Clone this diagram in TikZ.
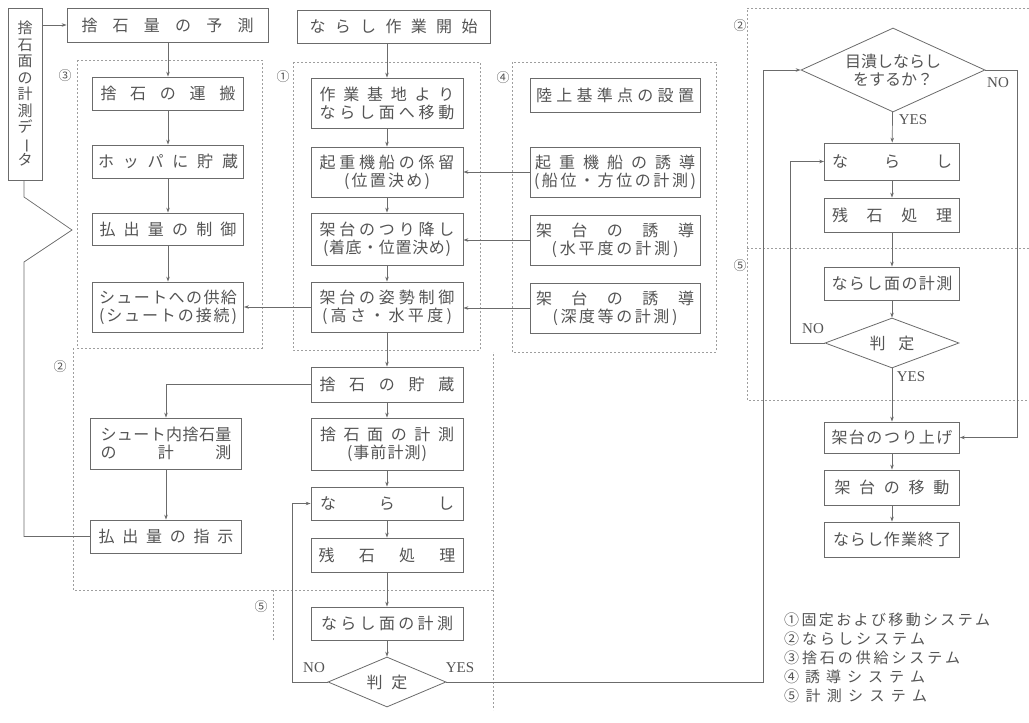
\documentclass[tikz,border=0pt]{standalone}
\usepackage{fontspec}
\setmainfont{Liberation Serif}
\newfontfamily\cjk{Noto Sans CJK JP}
\usetikzlibrary{shapes.geometric,arrows.meta}
\definecolor{tc}{gray}{0.33}
\definecolor{lc}{gray}{0.42}
\definecolor{dc}{gray}{0.62}
\makeatletter
\def\spr#1#2{\makebox[#1][s]{\spr@a#2\relax}}
\def\spr@a#1{#1\spr@b}
\def\spr@b#1{\ifx\relax#1\else\hfil#1\expandafter\spr@b\fi}
\makeatother
\begin{document}
\begin{tikzpicture}[x=1pt,y=-1pt,
 tx/.style={text=tc, font=\cjk\fontsize{16}{18}\selectfont},
 box/.style={draw=lc, line width=0.8pt, fill=white, inner sep=0pt, align=center, tx},
 lbox/.style={box, minimum width=151pt},
 cbox/.style={box, minimum width=152pt},
 ybox/.style={box, minimum width=170pt},
 rbox/.style={box, minimum width=135pt},
 dia/.style={box, diamond, inner sep=0pt},
 arr/.style={draw=lc, line width=0.7pt, -{Stealth[length=5pt,width=3.5pt]}},
 ln/.style={draw=lc, line width=0.7pt},
 zone/.style={draw=dc, line width=0.6pt, dash pattern=on 2pt off 2pt},
 regnum/.style={text=tc, font=\cjk\fontsize{13}{15}\selectfont, inner sep=0pt},
 yn/.style={text=tc, font=\fontsize{15}{17}\selectfont, inner sep=0pt},
 leg/.style={text=tc, font=\cjk\fontsize{15}{17}\selectfont, inner sep=0pt, anchor=west}
]
\useasboundingbox (0,0) rectangle (1029,723);

% system zones (dotted)
\draw[zone] (77,60) rectangle (262,348);
\draw[zone] (293,62) rectangle (480,350);
\draw[zone] (512,62) rectangle (716,352);
\draw[zone] (73,348) -- (73,590) -- (493,590) -- (493,352);
\draw[zone] (273,640) -- (273,590);
\draw[zone] (493,590) -- (493,710);
\draw[zone] (1029,8) -- (747,8) -- (747,400) -- (1029,400);
\draw[zone] (747,248) -- (1029,248);

\node[regnum] (z3) at (65,76) {③};
\node[regnum] (z1) at (283,77) {①};
\node[regnum] (z4) at (503,78) {④};
\node[regnum] (z2a) at (60,367) {②};
\node[regnum] (z5a) at (261,607) {⑤};
\node[regnum] (z2b) at (740,26) {②};
\node[regnum] (z5b) at (740,266) {⑤};

% left column
\node[box, minimum width=34pt, minimum height=172pt, font=\cjk\fontsize{15}{16.5}\selectfont] (data) at (25,94) {捨\\石\\面\\の\\計\\測\\デ\\\rotatebox[origin=c]{-90}{ー}\\タ};
\node[box, minimum width=201pt, minimum height=34pt] (yosoku) at (167.5,25) {\spr{172pt}{捨石量の予測}};
\node[lbox, minimum height=33pt] (unpan) at (168,93.5) {\spr{135pt}{捨石の運搬}};
\node[lbox, minimum height=33pt] (hopper) at (168,161.5) {\spr{140pt}{ホッパに貯蔵}};
\node[lbox, minimum height=32pt] (seigyo) at (168,229) {\spr{137pt}{払出量の制御}};
\node[lbox, minimum height=50pt] (kyokyu) at (168,307) {\spr{138pt}{シュートへの供給}\\\spr{138pt}{(シュートの接続)}};
\node[lbox, minimum height=51pt] (shute) at (166,443.5) {\spr{131pt}{シュート内捨石量}\\\spr{131pt}{の計測}};
\node[lbox, minimum height=33pt] (shiji) at (166,536.5) {\spr{135pt}{払出量の指示}};

% centre column
\node[box, minimum width=193pt, minimum height=33pt] (kaishi) at (393.5,26.5) {\spr{168pt}{ならし作業開始}};
\node[cbox, minimum height=50pt] (idou) at (387,103) {\spr{135pt}{作業基地より}\\\spr{135pt}{ならし面へ移動}};
\node[cbox, minimum height=50pt] (keiryu) at (387,172) {\spr{135pt}{起重機船の係留}\\\spr{86pt}{(位置決め)}};
\node[cbox, minimum height=52pt] (tsuri) at (387,239) {\spr{135pt}{架台のつり降し}\\\spr{128pt}{(着底・位置決め)}};
\node[cbox, minimum height=50pt] (shisei) at (387,307) {\spr{135pt}{架台の姿勢制御}\\\spr{130pt}{(高さ・水平度)}};
\node[cbox, minimum height=35pt] (chozo) at (387,384.5) {\spr{135pt}{捨石の貯蔵}};
\node[cbox, minimum height=52pt] (jizen) at (387,444) {\spr{134pt}{捨石面の計測}\\\spr{80pt}{(事前計測)}};
\node[cbox, minimum height=33pt] (narasi1) at (387,503.5) {\spr{134pt}{ならし}};
\node[cbox, minimum height=34pt] (zanseki1) at (387,555) {\spr{137pt}{残石処理}};
\node[cbox, minimum height=33pt] (keisoku1) at (387,623.5) {\spr{132pt}{ならし面の計測}};
\node[dia, minimum width=118pt, minimum height=50pt, aspect=2.4] (hantei1) at (387,682) {\spr{41pt}{判定}};

% guidance column
\node[ybox, minimum height=34pt] (kijun) at (615,95) {\spr{158pt}{陸上基準点の設置}};
\node[ybox, minimum height=50pt] (yudo1) at (615,172) {\spr{160pt}{起重機船の誘導}\\\spr{162pt}{(船位・方位の計測)}};
\node[ybox, minimum height=50pt] (yudo2) at (615,240) {\spr{158pt}{架台の誘導}\\\spr{127pt}{(水平度の計測)}};
\node[ybox, minimum height=50pt] (yudo3) at (615,308) {\spr{158pt}{架台の誘導}\\\spr{125pt}{(深度等の計測)}};

% right column
\node[dia, minimum width=184pt, minimum height=84pt, aspect=2.2] (mezu) at (893,70) {目潰しならし\\をするか？};
\node[rbox, minimum height=37pt] (narasi2) at (892,161.5) {\spr{120pt}{ならし}};
\node[rbox, minimum height=34pt] (zanseki2) at (892,215) {\spr{120pt}{残石処理}};
\node[rbox, minimum height=33pt] (keisoku2) at (892,283.5) {\spr{121pt}{ならし面の計測}};
\node[dia, minimum width=134pt, minimum height=50pt, aspect=2.7] (hantei2) at (892,343) {\spr{45pt}{判定}};
\node[rbox, minimum height=31pt] (tsuriage) at (892,437.5) {\spr{121pt}{架台のつり上げ}};
\node[rbox, minimum height=35pt] (idou2) at (892,487.5) {\spr{115pt}{架台の移動}};
\node[rbox, minimum height=35pt] (shuryo) at (892,539.5) {\spr{118pt}{ならし作業終了}};

% helper coordinates
\coordinate (b1) at (24,197);
\coordinate (tip) at (72,230);
\coordinate (b2) at (24,262);
\coordinate (noL1) at (292,682);
\coordinate (yesR) at (763,682);
\coordinate (noR) at (1017,70);
\coordinate (noL2) at (790,343);

% connectors: left
\draw[arr] (data.east |- yosoku.west) -- (yosoku.west);
\draw[arr] (yosoku.south -| unpan.north) -- (unpan.north);
\draw[arr] (unpan) -- (hopper);
\draw[arr] (hopper) -- (seigyo);
\draw[arr] (seigyo) -- (kyokyu);
\draw[ln] (data.south -| b1) -- (b1) -- (tip) -- (b2) |- (shiji.west);
\draw[arr] (chozo.west) -| (shute.north);
\draw[arr] (shute) -- (shiji);

% connectors: centre
\draw[arr] (idou.north |- kaishi.south) -- (idou.north);
\draw[arr] (idou) -- (keiryu);
\draw[arr] (keiryu) -- (tsuri);
\draw[arr] (tsuri) -- (shisei);
\draw[arr] (shisei) -- (chozo);
\draw[arr] (chozo) -- (jizen);
\draw[arr] (jizen) -- (narasi1);
\draw[arr] (narasi1) -- (zanseki1);
\draw[arr] (zanseki1) -- (keisoku1);
\draw[arr] (keisoku1) -- (hantei1);
\draw[arr] (hantei1.west) -- (noL1) |- (narasi1.west);
\draw[arr] (hantei1.east) -- (yesR) |- (mezu.west);

% connectors: guidance
\draw[arr] (yudo1.west) -- (keiryu.east |- yudo1.west);
\draw[arr] (yudo2.west) -- (tsuri.east |- yudo2.west);
\draw[arr] (yudo3.west) -- (shisei.east |- yudo3.west);
\draw[arr] (shisei.west) -- (kyokyu.east |- shisei.west);

% connectors: right
\draw[arr] (mezu) -- (narasi2);
\draw[arr] (narasi2) -- (zanseki2);
\draw[arr] (zanseki2) -- (keisoku2);
\draw[arr] (keisoku2) -- (hantei2);
\draw[arr] (hantei2) -- (tsuriage);
\draw[arr] (tsuriage) -- (idou2);
\draw[arr] (idou2) -- (shuryo);
\draw[arr] (hantei2.west) -- (noL2) |- (narasi2.west);
\draw[arr] (mezu.east) -- (noR) |- (tsuriage.east);

% YES / NO labels
\node[yn] (n1) at (314,668) {NO};
\node[yn] (y1) at (460,668) {YES};
\node[yn] (n2) at (998,83) {NO};
\node[yn] (y2) at (913,120) {YES};
\node[yn] (n3) at (813,329) {NO};
\node[yn] (y3) at (911,377) {YES};

% legend
\node[leg] (l1) at (784,620) {\spr{206pt}{①固定および移動システム}};
\node[leg] (l2) at (784,639) {\spr{141pt}{②ならしシステム}};
\node[leg] (l3) at (784,658) {\spr{176pt}{③捨石の供給システム}};
\node[leg] (l4) at (784,677) {\spr{141pt}{④誘導システム}};
\node[leg] (l5) at (784,696) {\spr{143pt}{⑤計測システム}};
\end{tikzpicture}
\end{document}
